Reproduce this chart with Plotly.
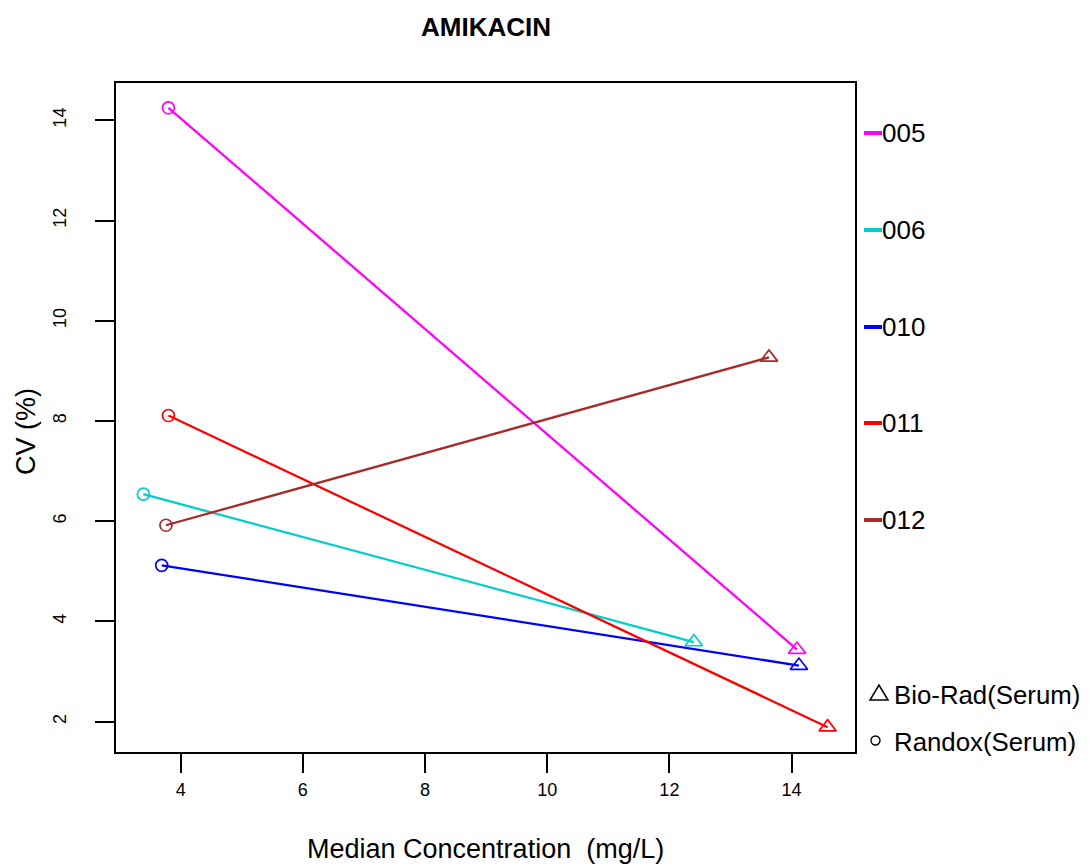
import plotly.graph_objects as go

# ---- data ----
labs = ["005", "006", "010", "011", "012"]
colors = ["#FF00FF", "#00CDCD", "#0000FF", "#FF0000", "#A52A2A"]
randox_x = [3.80, 3.39, 3.69, 3.80, 3.76]
randox_cv = [14.25, 6.54, 5.12, 8.11, 5.92]
biorad_x = [14.09, 12.40, 14.12, 14.59, 13.63]
biorad_cv = [3.44, 3.59, 3.12, 1.89, 9.27]
x_ticks = [4, 6, 8, 10, 12, 14]
y_ticks = [2, 4, 6, 8, 10, 12, 14]
title = "AMIKACIN"
xlab = "Median Concentration  (mg/L)"
ylab = "CV (%)"
kit_labels = ["Bio-Rad(Serum)", "Randox(Serum)"]

FONT = "Liberation Sans, Arial, sans-serif"
OFF = 8  # page body margin offset
W, H = 1091 - OFF, 866 - OFF
L, R, T, B = 116 - OFF, 855 - OFF, 83 - OFF, 752 - OFF
PW, PH = R - L, B - T


def px(x):
    return (x - OFF - L) / PW


def py(y):
    return (B - (y - OFF)) / PH


fig = go.Figure()
for i, lab in enumerate(labs):
    fig.add_trace(go.Scatter(
        x=[randox_x[i], biorad_x[i]], y=[randox_cv[i], biorad_cv[i]],
        mode="lines", line=dict(color=colors[i], width=2.3),
        showlegend=False, hoverinfo="skip"))
    fig.add_trace(go.Scatter(
        x=[randox_x[i]], y=[randox_cv[i]], mode="markers",
        marker=dict(symbol="circle-open", size=12, color=colors[i],
                    line=dict(width=1.7, color=colors[i])),
        showlegend=False, name=lab))
    fig.add_trace(go.Scatter(
        x=[biorad_x[i]], y=[biorad_cv[i]], mode="markers",
        marker=dict(symbol="triangle-up-open", size=15, color=colors[i],
                    line=dict(width=1.7, color=colors[i])),
        showlegend=False, name=lab))

# data ranges with R-style 4% padding
xmin = min(randox_x + biorad_x); xmax = max(randox_x + biorad_x)
ymin = min(randox_cv + biorad_cv); ymax = max(randox_cv + biorad_cv)
xp = 0.04 * (xmax - xmin); yp = 0.04 * (ymax - ymin)

axis_common = dict(showline=True, mirror=True, linecolor="black", linewidth=1.8,
                   ticks="outside", ticklen=19, tickwidth=1.8, tickcolor="black",
                   showgrid=False, zeroline=False,
                   tickfont=dict(family=FONT, size=18, color="black"))
fig.update_xaxes(range=[xmin - xp, xmax + xp], tickvals=x_ticks,
                 ticklabelstandoff=1, **axis_common)
fig.update_yaxes(range=[ymin - yp, ymax + yp], tickvals=y_ticks,
                 tickangle=-90, ticklabelstandoff=22, **axis_common)

ann = []
ann.append(dict(text="<b>%s</b>" % title, x=px((116 + 855) / 2), y=py(27), xref="paper", yref="paper",
                showarrow=False, font=dict(family=FONT, size=26, color="black"),
                xanchor="center", yanchor="middle"))
ann.append(dict(text=xlab, x=px((116 + 855) / 2), y=py(849), xref="paper", yref="paper",
                showarrow=False, font=dict(family=FONT, size=27, color="black"),
                xanchor="center", yanchor="middle"))
ann.append(dict(text=ylab, x=px(26), y=py(432), xref="paper", yref="paper",
                showarrow=False, textangle=-90, font=dict(family=FONT, size=27, color="black"),
                xanchor="center", yanchor="middle"))

shapes = []
leg_y = [133, 230, 327, 423, 520]
for i, lab in enumerate(labs):
    shapes.append(dict(type="line", xref="paper", yref="paper",
                       x0=px(864), x1=px(882), y0=py(leg_y[i]), y1=py(leg_y[i]),
                       line=dict(color=colors[i], width=4)))
    ann.append(dict(text=lab, x=px(882), y=py(leg_y[i]), xref="paper", yref="paper",
                    showarrow=False, font=dict(family=FONT, size=26, color="black"),
                    xanchor="left", yanchor="middle", xshift=-2))

# kit legend symbols
tri = [(870, 700), (888, 700), (879, 685)]
path = "M %f,%f L %f,%f L %f,%f Z" % (px(tri[0][0]), py(tri[0][1]), px(tri[1][0]), py(tri[1][1]),
                                      px(tri[2][0]), py(tri[2][1]))
shapes.append(dict(type="path", xref="paper", yref="paper", path=path,
                   line=dict(color="black", width=1.5)))
shapes.append(dict(type="circle", xref="paper", yref="paper",
                   x0=px(871), x1=px(880), y0=py(736), y1=py(745),
                   line=dict(color="black", width=1.4)))
ann.append(dict(text=kit_labels[0], x=px(895), y=py(695), xref="paper", yref="paper",
                showarrow=False, font=dict(family=FONT, size=25.8, color="black"),
                xanchor="left", yanchor="middle", xshift=-3))
ann.append(dict(text=kit_labels[1], x=px(895), y=py(742), xref="paper", yref="paper",
                showarrow=False, font=dict(family=FONT, size=25.8, color="black"),
                xanchor="left", yanchor="middle", xshift=-3))

fig.update_layout(width=W, height=H, margin=dict(l=L, r=W - R, t=T, b=H - B),
                  plot_bgcolor="white", paper_bgcolor="white",
                  annotations=ann, shapes=shapes, showlegend=False)
fig.write_html("out.html")
